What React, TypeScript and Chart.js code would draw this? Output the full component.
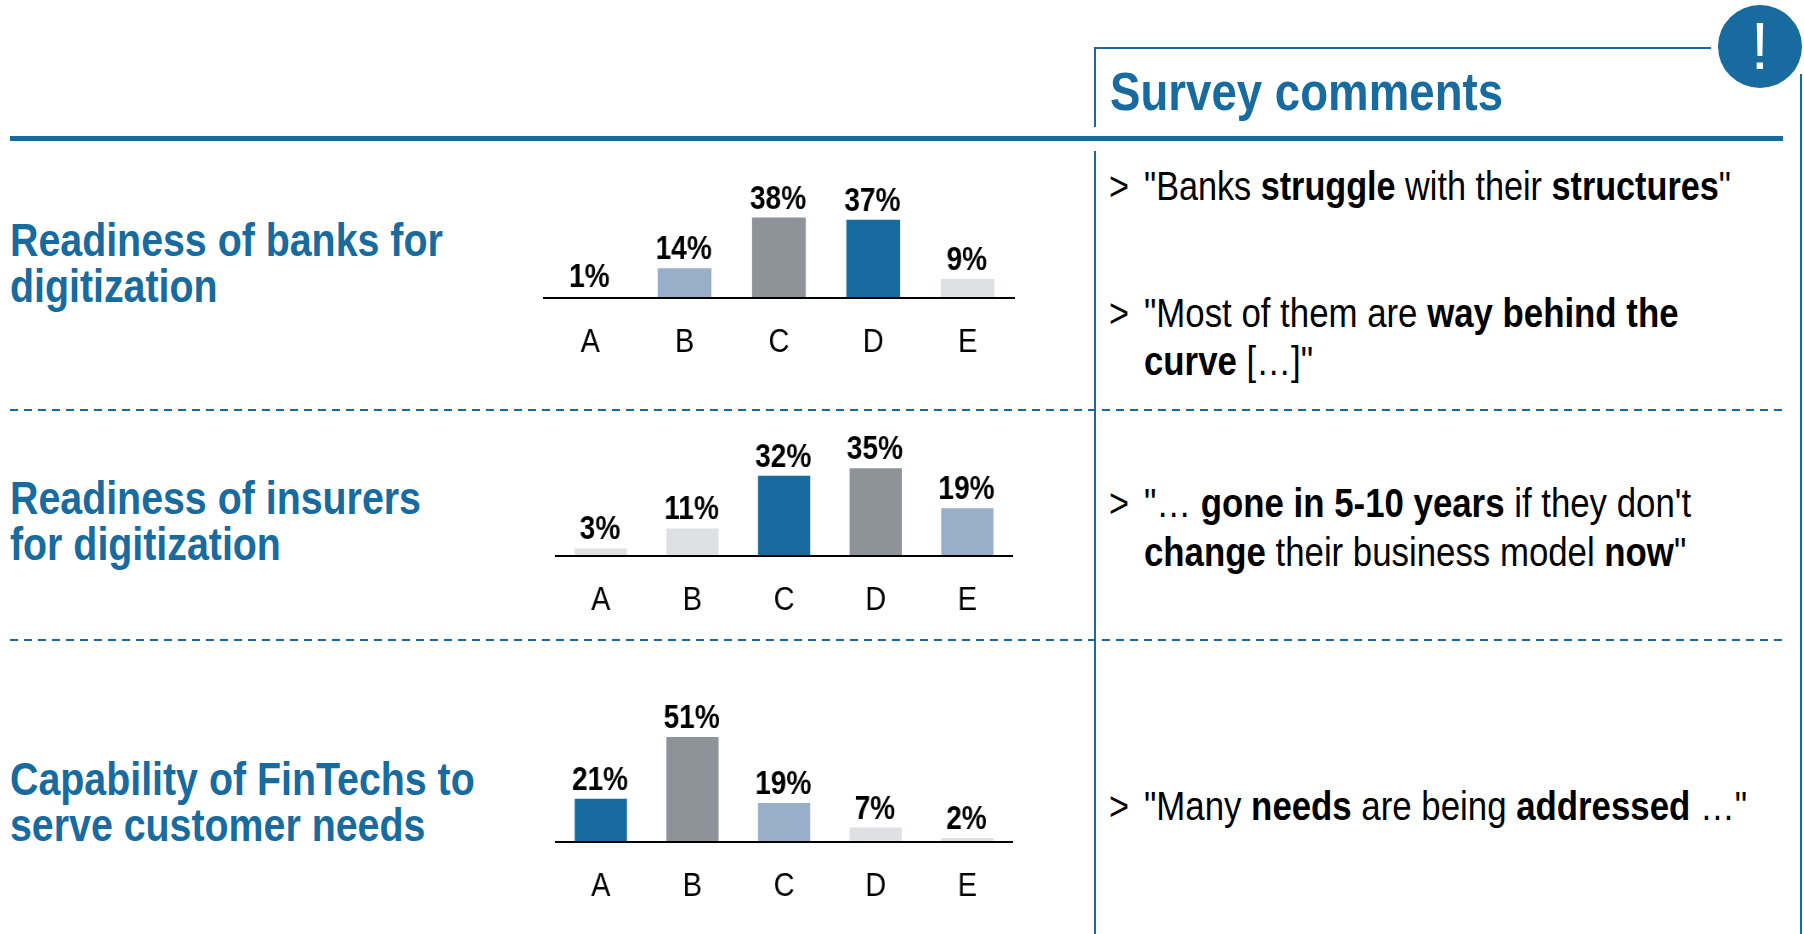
import React, { useEffect, useRef } from "react";
import { Chart, registerables } from "chart.js";

Chart.register(...registerables);

const categories = ["A", "B", "C", "D", "E"];
const banksValues = [1, 14, 38, 37, 9];
const insurersValues = [3, 11, 32, 35, 19];
const fintechValues = [21, 51, 19, 7, 2];

const BLUE = "#176b9e";
const PALE = "#98aec9";
const GREY = "#8e9299";
const LIGHT = "#dfe0e4";
const WHITE = "#ffffff";

const banksColors = [WHITE, PALE, GREY, BLUE, LIGHT];
const insurersColors = [LIGHT, LIGHT, BLUE, GREY, PALE];
const fintechColors = [BLUE, GREY, PALE, LIGHT, LIGHT];

const FONT = '"Liberation Sans", Arial, sans-serif';
const SX = 0.85;
const AXIS_BAND = 70;

const valueLabels = {
  id: "valueLabels",
  afterDatasetsDraw(chart: any) {
    const ctx = chart.ctx;
    const meta = chart.getDatasetMeta(0);
    const values = chart.data.datasets[0].data;
    ctx.save();
    ctx.font = `bold 33px ${FONT}`;
    ctx.fillStyle = "#000";
    ctx.textAlign = "center";
    ctx.textBaseline = "alphabetic";
    meta.data.forEach((bar: any, i: number) => {
      ctx.fillText(`${values[i]}%`, bar.x - 1, bar.y - 9);
    });
    ctx.restore();
  },
};

function BarPanel(props: { values: number[]; colors: string[]; left: number; width: number; axisY: number; ppp: number; yMax: number }) {
  const ref = useRef<HTMLCanvasElement>(null);
  const area = Math.round(props.yMax * props.ppp);
  const w = Math.round(props.width / SX);
  const h = area + AXIS_BAND;
  useEffect(() => {
    const chart = new Chart(ref.current as HTMLCanvasElement, {
      type: "bar",
      data: {
        labels: categories,
        datasets: [{ data: props.values, backgroundColor: props.colors, barPercentage: 0.57, categoryPercentage: 1 }],
      },
      options: {
        animation: false,
        responsive: false,
        maintainAspectRatio: false,
        layout: { padding: 0 },
        plugins: { legend: { display: false }, tooltip: { enabled: false } },
        scales: {
          y: { display: false, min: 0, max: props.yMax },
          x: {
            afterFit: (s: any) => { s.height = AXIS_BAND; },
            grid: { display: false, drawTicks: false },
            border: { display: true, color: "#000", width: 2, z: 1 },
            ticks: { color: "#000", padding: 24, font: { family: FONT, size: 34 }, maxRotation: 0 },
          },
        },
      },
      plugins: [valueLabels],
    } as any);
    return () => chart.destroy();
  }, []);
  return (
    <div style={{ position: "absolute", left: props.left, top: props.axisY - area, transform: `scaleX(${SX})`, transformOrigin: "left top" }}>
      <canvas ref={ref} width={w} height={h} style={{ display: "block", width: w, height: h }} />
    </div>
  );
}

function Line(props: { x: number; baseline: number; size: number; color?: string; bold?: boolean; children: React.ReactNode; sx?: number }) {
  const lh = props.size;
  const top = props.baseline - ((lh - 1.117 * props.size) / 2 + 0.905 * props.size);
  return (
    <div
      style={{
        position: "absolute",
        left: props.x,
        top,
        fontFamily: FONT,
        fontSize: props.size,
        lineHeight: `${lh}px`,
        fontWeight: props.bold ? 700 : 400,
        color: props.color || "#000",
        whiteSpace: "pre",
        transform: `scaleX(${props.sx || SX})`,
        transformOrigin: "left top",
      }}
    >
      {props.children}
    </div>
  );
}

function Rule(props: { x: number; y: number; w: number; h: number }) {
  return <div style={{ position: "absolute", left: props.x, top: props.y, width: props.w, height: props.h, background: BLUE }} />;
}

function Dashed(props: { y: number }) {
  return (
    <svg style={{ position: "absolute", left: 0, top: props.y - 2, overflow: "visible" }} width={1804} height={4}>
      <line x1={10} x2={1784} y1={2} y2={2} stroke={BLUE} strokeWidth={2} strokeDasharray="8 6" />
    </svg>
  );
}

export default function App() {
  useEffect(() => {
    document.body.style.margin = "0";
    document.body.style.background = "#fff";
  }, []);
  const H = 46;
  const HSX = 0.855;
  const C = 40;
  const CSX = 0.87;
  const CX = 1144;
  const BX = 1109;
  return (
    <div style={{ position: "fixed", left: 0, top: 0, width: 1804, height: 934, overflow: "hidden", background: "#fff" }}>
      <Rule x={1094} y={47} w={617} h={2} />
      <Rule x={1094} y={47} w={2} h={80} />
      <Rule x={1094} y={151} w={2} h={783} />
      <Rule x={1800} y={74} w={2} h={860} />
      <Rule x={10} y={136} w={1773} h={4.5} />
      <Dashed y={409.5} />
      <Dashed y={639.5} />

      <div style={{ position: "absolute", left: 1718, top: 5, width: 84, height: 83, borderRadius: "50%", background: BLUE }} />
      <div style={{ position: "absolute", left: 1718, top: 69 - (33 - 36.86 + 59.73), width: 84, textAlign: "center", color: "#fff", fontFamily: FONT, fontSize: 66, lineHeight: "66px" }}>!</div>

      <Line x={1110} baseline={110} size={54} sx={0.845} bold color={BLUE}>Survey comments</Line>

      <Line x={10} baseline={255.5} size={H} sx={HSX} bold color={BLUE}>Readiness of banks for<br />digitization</Line>
      <Line x={10} baseline={513.5} size={H} sx={HSX} bold color={BLUE}>Readiness of insurers<br />for digitization</Line>
      <Line x={10} baseline={795} size={H} sx={HSX} bold color={BLUE}>Capability of FinTechs to<br />serve customer needs</Line>

      <BarPanel values={banksValues} colors={banksColors} left={543} width={472} axisY={298} ppp={2.12} yMax={60} />
      <BarPanel values={insurersValues} colors={insurersColors} left={555} width={458} axisY={556} ppp={2.5} yMax={55} />
      <BarPanel values={fintechValues} colors={fintechColors} left={555} width={458} axisY={842} ppp={2.05} yMax={70} />

      <Line x={BX} baseline={199.5} size={C} sx={0.855}>{">"}</Line>
      <Line x={CX} baseline={199.5} size={C} sx={0.855}>"Banks <b>struggle</b> with their <b>structures</b>"</Line>
      <Line x={BX} baseline={326.5} size={C} sx={0.855}>{">"}</Line>
      <Line x={CX} baseline={326.5} size={C} sx={CSX}>"Most of them are <b>way behind the</b></Line>
      <Line x={CX} baseline={374.5} size={C} sx={CSX}><b>curve</b> […]"</Line>
      <Line x={BX} baseline={517} size={C} sx={0.855}>{">"}</Line>
      <Line x={CX} baseline={517} size={C} sx={CSX}>"… <b>gone in 5-10 years</b> if they don't</Line>
      <Line x={CX} baseline={565.5} size={C} sx={CSX}><b>change</b> their business model <b>now</b>"</Line>
      <Line x={BX} baseline={819.5} size={C} sx={0.855}>{">"}</Line>
      <Line x={CX} baseline={819.5} size={C} sx={CSX}>"Many <b>needs</b> are being <b>addressed</b> …"</Line>
    </div>
  );
}
